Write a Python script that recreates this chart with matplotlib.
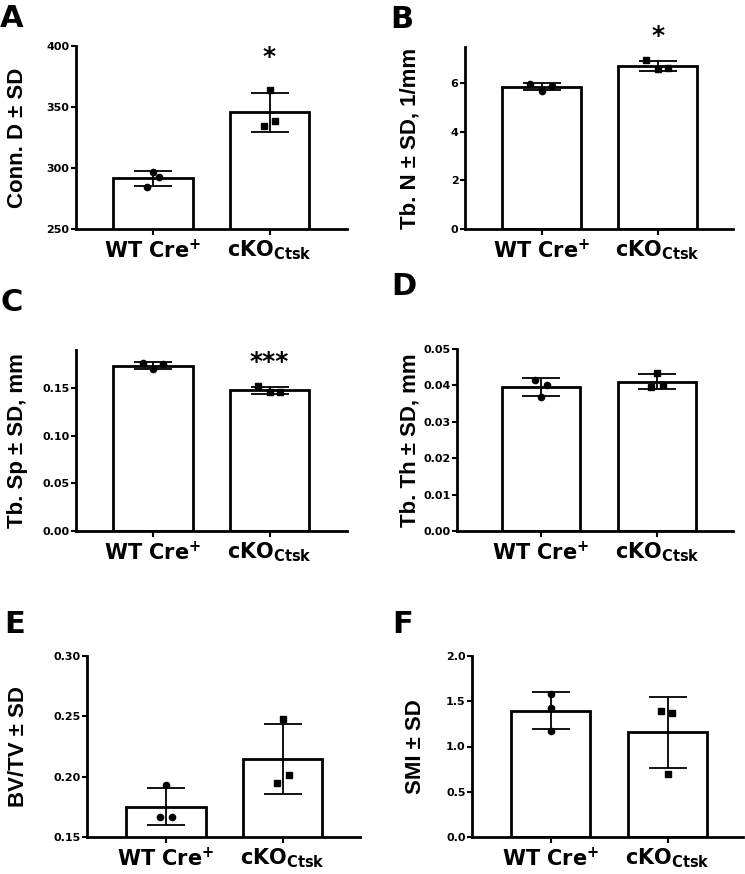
#!/usr/bin/env python3
"""Micro-CT bone parameters, WT Cre+ vs cKO Ctsk: six bar panels with points."""

import numpy as np
import matplotlib
matplotlib.use('Agg')
import matplotlib.pyplot as plt
import matplotlib.transforms as mtransforms

W, H = 745, 874

groups = [r'WT Cre$^{\mathbf{+}}$', r'cKO$_{\mathbf{Ctsk}}$']

# individual animals (n=3 per group)
conn_d_wt = [297.0, 293.0, 284.5]
conn_d_ko = [364.0, 334.5, 338.8]
tb_n_wt = [5.97, 5.68, 5.86]
tb_n_ko = [6.93, 6.56, 6.61]
tb_sp_wt = [0.176, 0.1696, 0.175]
tb_sp_ko = [0.152, 0.1455, 0.1455]
tb_th_wt = [0.0415, 0.0402, 0.0368]
tb_th_ko = [0.0435, 0.0395, 0.0402]
bvtv_wt = [0.1927, 0.1665, 0.1665]
bvtv_ko = [0.2479, 0.1950, 0.2015]
smi_wt = [1.58, 1.43, 1.176]
smi_ko = [1.393, 1.375, 0.698]

ylabels = ['Conn. D ± SD', 'Tb. N ± SD, 1/mm', 'Tb. Sp ± SD, mm',
           'Tb. Th ± SD, mm', 'BV/TV ± SD', 'SMI ± SD']
letters = ['A', 'B', 'C', 'D', 'E', 'F']
stars = ['*', '*', '***', '', '', '']

yticks = [
    [250, 300, 350, 400],
    [0, 2, 4, 6],
    [0.0, 0.05, 0.10, 0.15],
    [0.0, 0.01, 0.02, 0.03, 0.04, 0.05],
    [0.15, 0.20, 0.25, 0.30],
    [0.0, 0.5, 1.0, 1.5, 2.0],
]
ytick_fmt = ['{:.0f}', '{:.0f}', '{:.2f}', '{:.2f}', '{:.2f}', '{:.1f}']
ylims = [(250, 400), (0, 7.47), (0, 0.19), (0, 0.05), (0.15, 0.30), (0, 2.0)]

panels = [
    (conn_d_wt, conn_d_ko),
    (tb_n_wt, tb_n_ko),
    (tb_sp_wt, tb_sp_ko),
    (tb_th_wt, tb_th_ko),
    (bvtv_wt, bvtv_ko),
    (smi_wt, smi_ko),
]

# layout (pixels): axes box left, top, right, bottom
boxes = [(76, 46, 347, 229), (465, 47, 733, 229),
         (76, 350, 347, 531), (457, 349, 733, 531),
         (87, 656, 360, 837), (472, 656, 743, 837)]
xlims = [(-0.661, 1.665), (-0.66, 1.65), (-0.661, 1.665),
         (-0.724, 1.655), (-0.677, 1.662), (-0.671, 1.645)]
ylabel_x = [18, 410, 18, 410, 19, 416]
letter_pos = [(0, 4), (390, 5), (0, 288), (391, 272), (4, 610), (392, 610)]
star_y = [385, 7.64, 0.1705, None, None, None]
# horizontal spread of the dots (Prism-style scatter)
jitter = [
    ([0, 0.05, -0.05], [0, -0.05, 0.05]),
    ([-0.1, 0, 0.09], [-0.1, 0, 0.09]),
    ([-0.09, 0, 0.09], [-0.1, 0, 0.09]),
    ([-0.05, 0.05, 0], [0, -0.05, 0.05]),
    ([0, -0.05, 0.05], [0, -0.05, 0.05]),
    ([0, 0, 0], [-0.06, 0.04, 0]),
]

plt.rcParams['font.family'] = 'DejaVu Sans'
plt.rcParams['font.weight'] = 'bold'
plt.rcParams['mathtext.fontset'] = 'dejavusans'

fig = plt.figure(figsize=(W / 100, H / 100), dpi=100)

for i, (wt, ko) in enumerate(panels):
    l, t, r, b = boxes[i]
    ax = fig.add_axes([l / W, 1 - b / H, (r - l) / W, (b - t) / H])

    vals = [np.array(wt), np.array(ko)]
    means = [v.mean() for v in vals]
    sds = [v.std(ddof=1) for v in vals]
    x = np.arange(2)

    ax.bar(x, means, width=0.68, color='white', edgecolor='black',
           linewidth=2.0, zorder=1)
    ax.errorbar(x, means, yerr=sds, fmt='none', ecolor='black',
                elinewidth=1.3, capsize=14, capthick=1.3, zorder=2)
    for k, (v, mk) in enumerate(zip(vals, ['o', 's'])):
        ax.plot(k + np.array(jitter[i][k]), v, mk, color='black',
                markersize=4.5, zorder=3, clip_on=False)

    ax.set_xlim(*xlims[i])
    ax.set_ylim(*ylims[i])
    ax.set_xticks(x)
    ax.set_xticklabels(groups, fontsize=15, fontweight='bold')
    ax.set_yticks(yticks[i])
    ax.set_yticklabels([ytick_fmt[i].format(v) for v in yticks[i]],
                       fontsize=8, fontweight='bold')
    ax.tick_params(axis='y', length=3.6, width=1.5, pad=1)
    ax.tick_params(axis='x', length=4, width=1.5, pad=3)
    for s in ['top', 'right']:
        ax.spines[s].set_visible(False)
    for s in ['left', 'bottom']:
        ax.spines[s].set_linewidth(2.0)

    ax.set_ylabel(ylabels[i], fontsize=16, fontweight='bold',
                  family='Liberation Sans', va='center')
    trans = mtransforms.blended_transform_factory(fig.transFigure, ax.transAxes)
    ax.yaxis.set_label_coords(ylabel_x[i] / W, 0.5, transform=trans)

    if stars[i]:
        ax.text(1, star_y[i], stars[i], ha='center', va='baseline',
                fontsize=18, fontweight='bold', clip_on=False)

    lx, ly = letter_pos[i]
    fig.text(lx / W, 1 - ly / H, letters[i], ha='left', va='top',
             fontsize=22, fontweight='bold')

fig.savefig('out.png', dpi=100)
print('Saved plot to out.png')
